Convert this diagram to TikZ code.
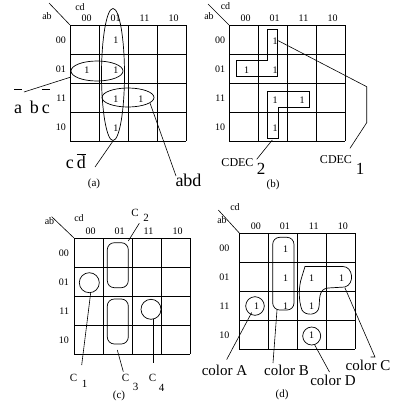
\documentclass[tikz,border=0pt]{standalone}
\usepackage{fontspec}
\setmainfont{Liberation Serif}
\usetikzlibrary{shapes.geometric}
\newlength\ovlw
\newcommand\ovl[2]{\settowidth\ovlw{#2}\ooalign{#2\cr\hidewidth\raisebox{#1}{\rule{\ovlw}{0.6pt}}\hidewidth\cr}}
\newcommand\kmap[4]{%
 \foreach \i in {0,...,4}{%
   \draw[gridline] ({#1+29*\i},#2) -- ({#1+29*\i},{#2+116});
   \draw[gridline] (#1,{#2+29*\i}) -- ({#1+116},{#2+29*\i});}
 \foreach \t [count=\k from 0] in {00,01,11,10}{%
   \node[lab] (#3c\t) at ({#1+16.5+29*\k},{#2-7}) {\t};
   \node[lab,anchor=east] (#3r\t) at ({#1-#4},{#2+15.5+29*\k}) {\t};}
}
\begin{document}
\begin{tikzpicture}[x=1pt,y=-1pt,
  txt/.style={inner sep=0pt, outer sep=0pt},
  lab/.style={txt, font=\fontsize{10}{10}\selectfont},
  one/.style={txt, font=\fontsize{10}{10}\selectfont},
  big/.style={txt, font=\fontsize{18}{18}\selectfont},
  mid/.style={txt, font=\fontsize{15}{15}\selectfont},
  cdec/.style={txt, font=\fontsize{12}{12}\selectfont},
  idx/.style={txt, font=\fontsize{17}{17}\selectfont},
  sml/.style={txt, font=\fontsize{11}{11}\selectfont},
  captxt/.style={txt, font=\fontsize{11}{11}\selectfont},
  gridline/.style={line width=1pt},
  conn/.style={line width=0.6pt},
  ring/.style={line width=0.7pt}]
\useasboundingbox (0,0) rectangle (393,408);

% ---------------- (a)
\kmap{70}{25}{a}{4}
\node[lab] (acd) at (80,7) {cd};
\node[lab] (aab) at (47,16) {ab};
\coordinate (adg) at (49,3);
\coordinate (acorner) at (70,25);
\draw[conn] (adg) -- (acorner);
\node[one] (a1) at (116,40.5) {1};
\node[one] (a2) at (116,70) {1};
\node[one] (a3) at (116,99) {1};
\node[one] (a4) at (116,128) {1};
\node[one] (a5) at (87,70) {1};
\node[one] (a6) at (141,99) {1};
\draw[ring] (113,74.5) ellipse [x radius=11.5, y radius=66];
\draw[ring] (97,71) ellipse [x radius=26, y radius=10];
\draw[ring] (128,97.5) ellipse [x radius=26, y radius=9.5];
\coordinate (aabcS) at (71,77);
\coordinate (aabcE) at (24,92);
\draw[conn] (aabcS) -- (aabcE);
\node[big,anchor=base west] (aabc) at (14,113) {\ovl{23.5pt}{a}\hspace{8pt}b\hspace{3pt}\ovl{23.5pt}{c}};
\coordinate (acdS) at (113,141);
\coordinate (acdE) at (95,167);
\draw[conn] (acdS) -- (acdE);
\node[big,anchor=base west] (acdl) at (66,168) {c\hspace{3pt}\ovl{13.5pt}{d}};
\coordinate (aabdS) at (150,103);
\coordinate (aabdE) at (176,176);
\draw[conn] (aabdS) -- (aabdE);
\node[big,anchor=base] (aabd) at (188.5,186) {abd};
\node[captxt] (acap) at (94,184) {(a)};

% ---------------- (b)
\kmap{229}{25}{b}{4}
\node[lab] (bcd) at (225.5,6) {cd};
\node[lab] (bab) at (209,16) {ab};
\coordinate (bdg) at (208,4);
\coordinate (bcorner) at (229,25);
\draw[conn] (bdg) -- (bcorner);
\node[one] (b1) at (275,41) {1};
\node[one] (b2) at (275,70) {1};
\node[one] (b3) at (246.5,70) {1};
\node[one] (b4) at (275,100) {1};
\node[one] (b5) at (302,100) {1};
\node[one] (b6) at (275,128) {1};
\draw[ring] (267.7,29.3) -- (277.7,29.3) -- (277.7,76) -- (236.3,76) -- (236.3,60.7) -- (267.7,60.7) -- cycle;
\draw[ring] (267.7,91.7) -- (309.3,91.7) -- (309.3,107.3) -- (278.3,107.3) -- (278.3,138.3) -- (267.7,138.3) -- cycle;
\coordinate (bc1S) at (278.3,40.7);
\coordinate (bc1A) at (366.7,86.7);
\coordinate (bc1B) at (366.7,122.7);
\coordinate (bc1E) at (350,148.3);
\draw[conn] (bc1S) -- (bc1A) -- (bc1B) -- (bc1E);
\node[cdec] (bcdec1) at (336,160) {CDEC};
\node[idx] (bone) at (360,169) {1};
\coordinate (bc2S) at (272.3,140);
\coordinate (bc2E) at (256.7,159.3);
\draw[conn] (bc2S) -- (bc2E);
\node[cdec] (bcdec2) at (237.5,163) {CDEC};
\node[idx] (btwo) at (261,169) {2};
\node[captxt] (bcap) at (273,185) {(b)};

% ---------------- (c)
\kmap{74}{238}{c}{5}
\node[lab] (ccd) at (79,218.5) {cd};
\node[lab] (cab) at (49.5,221) {ab};
\coordinate (cdg) at (51.7,216.7);
\coordinate (ccorner) at (74,238);
\draw[conn] (cdg) -- (ccorner);
\draw[ring,rounded corners=7] (107.3,242.7) rectangle (128.3,287.7);
\draw[ring,rounded corners=7] (107.3,299) rectangle (128.3,344);
\draw[ring] (89.3,282.7) circle [radius=10];
\draw[ring] (151,309.3) circle [radius=10];
\coordinate (cc2S) at (128.3,241);
\coordinate (cc2E) at (139.3,223.3);
\draw[conn] (cc2S) -- (cc2E);
\node[sml] (cC2) at (135,213.3) {C};
\node[sml] (cC2i) at (146,218.3) {2};
\coordinate (cc1S) at (90.7,292.7);
\coordinate (cc1E) at (81.7,365);
\draw[conn] (cc1S) -- (cc1E);
\node[sml] (cC1) at (73.5,378) {C};
\node[sml] (cC1i) at (84.5,383.5) {1};
\coordinate (cc3S) at (117.3,350);
\coordinate (cc3E) at (123.3,371.7);
\draw[conn] (cc3S) -- (cc3E);
\node[sml] (cC3) at (125.5,377.7) {C};
\node[sml] (cC3i) at (135.5,387) {3};
\coordinate (cc4S) at (153.3,319.3);
\coordinate (cc4E) at (153.3,363);
\draw[conn] (cc4S) -- (cc4E);
\node[sml] (cC4) at (152.5,377.7) {C};
\node[sml] (cC4i) at (161.5,387.5) {4};
\node[captxt] (ccap) at (119,396) {(c)};

% ---------------- (d)
\kmap{239.3}{233}{d}{10}
\node[lab] (dcd) at (235,206.7) {cd};
\node[lab] (dab) at (222,220) {ab};
\coordinate (ddg) at (218.3,210);
\coordinate (dcorner) at (239.3,233);
\draw[conn] (ddg) -- (dcorner);
\node[one] (d1) at (285.7,249) {1};
\node[one] (d2) at (285.7,278.5) {1};
\node[one] (d3) at (285.7,306) {1};
\node[one] (d4) at (311.7,278.5) {1};
\node[one] (d5) at (341.7,278.5) {1};
\node[one] (d6) at (256.7,306) {1};
\node[one] (d7) at (311.7,306) {1};
\node[one] (d8) at (311.7,335) {1};
\draw[ring] (255,306) circle [radius=9.3];
\draw[ring] (311.7,336) circle [radius=9];
\draw[ring,rounded corners=7] (272.7,237.3) rectangle (294,310);
\draw[ring] (301.5,278) -- (305,266.5) -- (343,266.5) .. controls (353,266.5) and (355,284) .. (345,287)
  -- (328,288) .. controls (318,289) and (320,300) .. (319,307)
  .. controls (318,316) and (305,316) .. (302,310)
  .. controls (298,300) and (299,285) .. (301.5,278) -- cycle;
\coordinate (dAS) at (251.7,312.5);
\coordinate (dAE) at (226.7,359.5);
\draw[conn] (dAS) -- (dAE);
\node[mid,anchor=base] (dcolA) at (224.5,375) {color A};
\coordinate (dBS) at (277,310);
\coordinate (dBE) at (273,363);
\draw[conn] (dBS) -- (dBE);
\node[mid,anchor=base] (dcolB) at (286.5,375) {color B};
\coordinate (dDS) at (314.5,344.5);
\coordinate (dDE) at (329.5,372);
\draw[conn] (dDS) -- (dDE);
\node[mid,anchor=base] (dcolD) at (333,385) {color D};
\coordinate (dCS) at (345,288);
\coordinate (dCE) at (375,357);
\coordinate (dCF) at (370.5,357);
\draw[conn] (dCS) -- (dCE) -- (dCF);
\node[mid,anchor=base] (dcolC) at (368,370) {color C};
\node[captxt] (dcap) at (282,395) {(d)};
\end{tikzpicture}
\end{document}
